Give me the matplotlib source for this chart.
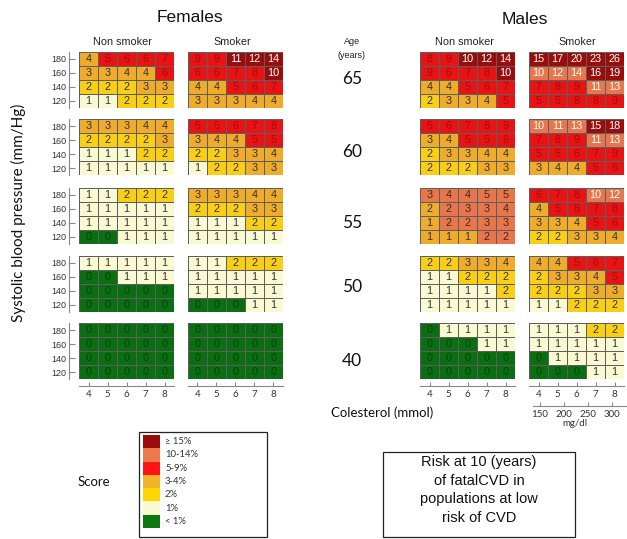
import matplotlib
matplotlib.use('Agg')
import matplotlib.pyplot as plt
import numpy as np
from matplotlib.colors import ListedColormap, BoundaryNorm
from matplotlib.patches import Rectangle

W, H = 627, 539

# ---------------- data ----------------
ages = [65, 60, 55, 50, 40]
sbp = [180, 160, 140, 120]
chol_mmol = [4, 5, 6, 7, 8]
chol_mgdl = [150, 200, 250, 300]

female_nonsmoker = [
    [[4, 5, 6, 6, 7], [3, 3, 4, 4, 6], [2, 2, 2, 3, 3], [1, 1, 2, 2, 2]],
    [[3, 3, 3, 4, 4], [2, 2, 2, 2, 3], [1, 1, 1, 2, 2], [1, 1, 1, 1, 1]],
    [[1, 1, 2, 2, 2], [1, 1, 1, 1, 1], [1, 1, 1, 1, 1], [0, 0, 1, 1, 1]],
    [[1, 1, 1, 1, 1], [0, 0, 1, 1, 1], [0, 0, 0, 0, 0], [0, 0, 0, 0, 0]],
    [[0, 0, 0, 0, 0], [0, 0, 0, 0, 0], [0, 0, 0, 0, 0], [0, 0, 0, 0, 0]],
]
female_smoker = [
    [[9, 9, 11, 12, 14], [6, 6, 7, 8, 10], [4, 4, 5, 6, 7], [3, 3, 3, 4, 4]],
    [[5, 5, 6, 7, 8], [3, 4, 4, 5, 5], [2, 2, 3, 3, 4], [1, 2, 2, 3, 3]],
    [[3, 3, 3, 4, 4], [2, 2, 2, 3, 3], [1, 1, 1, 2, 2], [1, 1, 1, 1, 1]],
    [[1, 1, 2, 2, 2], [1, 1, 1, 1, 1], [1, 1, 1, 1, 1], [0, 0, 0, 1, 1]],
    [[0, 0, 0, 0, 0], [0, 0, 0, 0, 0], [0, 0, 0, 0, 0], [0, 0, 0, 0, 0]],
]
male_nonsmoker = [
    [[8, 9, 10, 12, 14], [9, 6, 7, 8, 10], [4, 4, 5, 6, 7], [2, 3, 3, 4, 5]],
    [[5, 6, 7, 8, 9], [3, 4, 5, 5, 6], [2, 3, 3, 4, 4], [2, 2, 2, 3, 3]],
    [[3, 4, 4, 5, 5], [2, 2, 3, 3, 4], [1, 2, 2, 3, 3], [1, 1, 1, 2, 2]],
    [[2, 2, 3, 3, 4], [1, 1, 2, 2, 2], [1, 1, 1, 1, 2], [1, 1, 1, 1, 1]],
    [[0, 1, 1, 1, 1], [0, 0, 0, 1, 1], [0, 0, 0, 0, 0], [0, 0, 0, 0, 0]],
]
male_smoker = [
    [[15, 17, 20, 23, 26], [10, 12, 14, 16, 19], [7, 8, 9, 11, 13], [5, 5, 8, 8, 9]],
    [[10, 11, 13, 15, 18], [7, 8, 9, 11, 13], [5, 5, 6, 7, 9], [3, 4, 4, 5, 6]],
    [[6, 7, 8, 10, 12], [4, 5, 8, 7, 8], [3, 3, 4, 5, 6], [2, 2, 3, 3, 4]],
    [[4, 4, 5, 6, 7], [2, 3, 3, 4, 5], [2, 2, 2, 3, 3], [1, 1, 2, 2, 2]],
    [[1, 1, 1, 2, 2], [1, 1, 1, 1, 1], [0, 1, 1, 1, 1], [0, 0, 0, 1, 1]],
]

legend_labels = ['≥ 15%', '10-14%', '5-9%', '3-4%', '2%', '1%', '< 1%']
# class order: 0 <1%, 1 1%, 2 2%, 3 3-4%, 4 5-9%, 5 10-14%, 6 >=15%
class_colors = ['#0b6e12', '#fafad2', '#f9cf16', '#eeab2c', '#e61414', '#e8764c', '#990d0d']
legend_colors = ['#9b0d0d', '#ea7a4b', '#ff1212', '#f2b42a', '#ffd600', '#fafad2', '#0a780c']

# shading as printed in the source chart (where it differs from the value rule)
darkred_panels = [('F', 'S', 65), ('M', 'N', 65)]
male_ns55_shade = [[5, 5, 5, 5, 5], [3, 5, 5, 5, 5], [3, 5, 5, 5, 5], [3, 3, 3, 5, 5]]


def risk_class(v):
    if v < 1:
        return 0
    if v < 2:
        return 1
    if v < 3:
        return 2
    if v < 5:
        return 3
    if v < 10:
        return 4
    if v < 15:
        return 5
    return 6


cmap = ListedColormap(class_colors)
norm = BoundaryNorm(np.arange(-0.5, 7.5, 1), cmap.N)

fig = plt.figure(figsize=(W / 100, H / 100), dpi=100)
fig.patch.set_facecolor('white')

ARIAL = 'Liberation Sans'
CAL = 'Lato'


def px_axes(x, y, w, h):
    return fig.add_axes([x / W, 1 - (y + h) / H, w / W, h / H])


def ftext(x, y, s, **kw):
    fig.text(x / W, 1 - y / H, s, **kw)


PW, PH = 95, 56
tops = [52, 119, 188, 256, 323]
cols_x = {('F', 'N'): 79, ('F', 'S'): 188, ('M', 'N'): 420, ('M', 'S'): 529}
data = {('F', 'N'): female_nonsmoker, ('F', 'S'): female_smoker,
        ('M', 'N'): male_nonsmoker, ('M', 'S'): male_smoker}

xedges = np.arange(3.5, 9.0, 1.0)
yedges = np.arange(110, 200, 20)

for key, grids in data.items():
    sex, smk = key
    for k, age in enumerate(ages):
        grid = grids[k]
        cls = [[risk_class(v) for v in row] for row in grid]
        if (sex, smk, age) in darkred_panels:
            cls = [[6 if v >= 10 else c for v, c in zip(r1, r2)] for r1, r2 in zip(grid, cls)]
        if (sex, smk, age) == ('M', 'N', 55):
            cls = male_ns55_shade
        ax = px_axes(cols_x[key], tops[k], PW, PH)
        Z = np.array(cls)[::-1]
        ax.pcolormesh(xedges, yedges, Z, cmap=cmap, norm=norm,
                      edgecolors='#5e5e5e', linewidth=0.6)
        ax.set_xlim(3.5, 8.5)
        ax.set_ylim(110, 190)
        for i, s in enumerate(sbp):
            for j, c in enumerate(chol_mmol):
                v = grid[i][j]
                cc = cls[i][j]
                if cc == 6:
                    tc = 'white'
                elif cc == 5:
                    tc = 'white' if v >= 10 else '#3a2a20'
                elif cc == 4:
                    tc = '#a80a0a'
                elif cc == 0:
                    tc = '#064508'
                else:
                    tc = '#333333'
                ax.text(c, s, str(v), ha='center', va='center', fontsize=7.8,
                        color=tc, family=ARIAL)
        for sp in ['top', 'right', 'bottom']:
            ax.spines[sp].set_visible(False)
        ax.set_xticks([])
        if key == ('F', 'N'):
            ax.spines['left'].set_position(('outward', 7))
            ax.spines['left'].set_color('#888888')
            ax.spines['left'].set_linewidth(0.8)
            ax.set_yticks(sbp)
            ax.set_yticklabels([str(s) for s in sbp], fontsize=6.5, color='#333333', family=ARIAL)
            ax.tick_params(axis='y', direction='in', length=4, color='#888888', pad=2)
        else:
            ax.spines['left'].set_visible(False)
            ax.set_yticks([])

    # cholesterol axis under each column
    axx = px_axes(cols_x[key], 380, PW, 6)
    axx.set_xlim(3.5, 8.5)
    for sp in ['top', 'right', 'left']:
        axx.spines[sp].set_visible(False)
    axx.spines['bottom'].set_color('#888888')
    axx.spines['bottom'].set_linewidth(0.8)
    axx.patch.set_alpha(0)
    axx.set_yticks([])
    axx.set_xticks(chol_mmol)
    axx.set_xticklabels([str(c) for c in chol_mmol], fontsize=7, color='#333333', family=CAL)
    axx.tick_params(axis='x', direction='in', length=3, color='#888888', pad=3)

# mg/dl axis
axm = px_axes(cols_x[('M', 'S')] + 4, 400, PW - 2, 6)
axm.set_xlim(3.5, 8.5)
for sp in ['top', 'right', 'left']:
    axm.spines[sp].set_visible(False)
axm.spines['bottom'].set_color('#888888')
axm.spines['bottom'].set_linewidth(0.8)
axm.patch.set_alpha(0)
axm.set_yticks([])
axm.set_xticks([m / 38.67 for m in chol_mgdl])
axm.set_xticklabels([str(m) for m in chol_mgdl], fontsize=7, color='#333333', family=CAL)
axm.tick_params(axis='x', direction='in', length=3, color='#888888', pad=3)
ftext(575, 424, 'mg/dl', ha='center', va='center', fontsize=7, color='#333333', family=CAL)

# titles
ftext(190, 17, 'Females', ha='center', va='center', fontsize=12.5, family=ARIAL, color='#111111')
ftext(525, 20, 'Males', ha='center', va='center', fontsize=12.5, family=ARIAL, color='#111111')
ftext(122, 42, 'Non smoker', ha='center', va='center', fontsize=7.8, family=ARIAL, color='#222222')
ftext(232, 42, 'Smoker', ha='center', va='center', fontsize=7.8, family=ARIAL, color='#222222')
ftext(464, 42, 'Non smoker', ha='center', va='center', fontsize=7.8, family=ARIAL, color='#222222')
ftext(577, 42, 'Smoker', ha='center', va='center', fontsize=7.8, family=ARIAL, color='#222222')
ftext(352, 42, 'Age', ha='center', va='center', fontsize=6.5, family=ARIAL, color='#222222')
ftext(352, 55, '(years)', ha='center', va='center', fontsize=6.5, family=ARIAL, color='#222222')
age_y = [79, 152, 223, 287, 361]
for a, yy in zip(ages, age_y):
    ftext(352, yy, str(a), ha='center', va='center', fontsize=12.5, family=CAL, color='#111111')

ftext(18, 213, 'Systolic blood pressure (mm/Hg)', ha='center', va='center', rotation=90,
      fontsize=11, family=CAL, color='#111111')
ftext(382, 413, 'Colesterol (mmol)', ha='center', va='center', fontsize=9.5, family=CAL,
      color='#111111')

# legend
ftext(94, 482, 'Score', ha='center', va='center', fontsize=9.5, family=CAL, color='#111111')
fig.patches.append(Rectangle((139 / W, 1 - 537 / H), 128 / W, 105 / H, transform=fig.transFigure,
                             facecolor='white', edgecolor='#222222', linewidth=0.9))
sw_top, sw_h = 435, 13.3
for i, (lab, col) in enumerate(zip(legend_labels, legend_colors)):
    y0 = sw_top + i * sw_h
    fig.patches.append(Rectangle((143 / W, 1 - (y0 + sw_h) / H), 17 / W, sw_h / H,
                                 transform=fig.transFigure, facecolor=col, edgecolor='none'))
    ftext(165, y0 + sw_h / 2, lab, ha='left', va='center', fontsize=6.8, family=CAL, color='#333333')

# risk note box
fig.patches.append(Rectangle((383 / W, 1 - 537 / H), 192 / W, 85 / H, transform=fig.transFigure,
                             facecolor='white', edgecolor='#222222', linewidth=0.9))
note = ['Risk at 10 (years)', 'of fatalCVD in', 'populations at low', 'risk of CVD']
for i, line in enumerate(note):
    ftext(479, 462 + i * 18.7, line, ha='center', va='center', fontsize=10.5, family=ARIAL,
          color='#111111')

fig.savefig('out.png', dpi=100, facecolor='white')
